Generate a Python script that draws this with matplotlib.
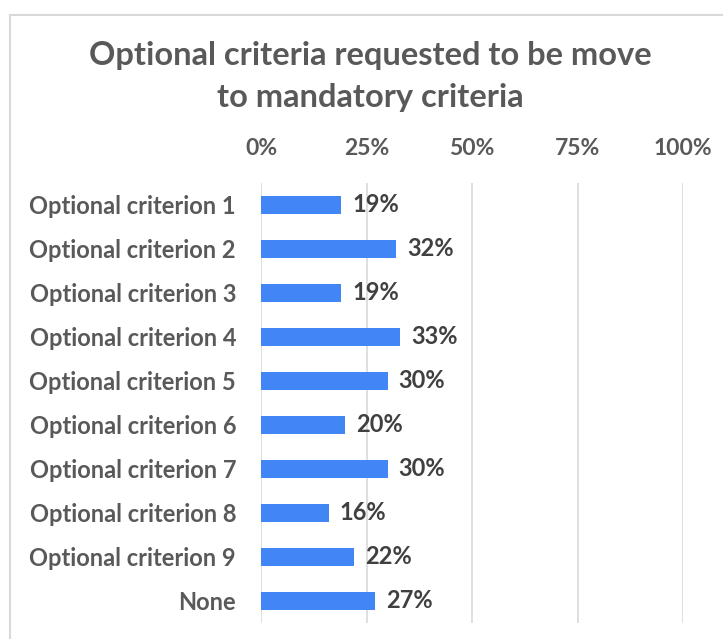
import matplotlib
matplotlib.use("Agg")
import matplotlib.pyplot as plt
from matplotlib.patches import Rectangle

# datos
categories = ["Optional criterion 1", "Optional criterion 2", "Optional criterion 3",
              "Optional criterion 4", "Optional criterion 5", "Optional criterion 6",
              "Optional criterion 7", "Optional criterion 8", "Optional criterion 9", "None"]
values = [19, 32, 19, 33, 30, 20, 30, 16, 22, 27]
ticks = [0, 25, 50, 75, 100]
tick_labels = ["0%", "25%", "50%", "75%", "100%"]

plt.rcParams['font.family'] = ['Lato', 'DejaVu Sans']
W, H = 723, 639
fig = plt.figure(figsize=(W / 100, H / 100), dpi=100)

# marco exterior del grafico
fig.patches.append(Rectangle((10 / W, -0.1), 1.2, 1 - 15 / H + 0.1, transform=fig.transFigure,
                             fill=False, edgecolor='#d9d9d9', linewidth=1.5))

ax = fig.add_axes([261 / W, 1 - 623 / H, (683 - 261) / W, 440 / H])
y = list(range(len(categories)))
ax.barh(y, values, height=0.39, color='#4285f4', zorder=3)
ax.set_ylim(len(categories) - 0.5, -0.5)
ax.set_xlim(0, 100)
ax.set_xticks(ticks)
ax.set_xticklabels(tick_labels)
ax.xaxis.tick_top()
ax.tick_params(axis='x', length=0, pad=17, labelsize=16.5, labelcolor='#595959')
ax.set_yticks(y)
ax.set_yticklabels(categories, fontweight='bold')
ax.tick_params(axis='y', length=0, pad=18, labelsize=17, labelcolor='#595959')
for lab in ax.get_xticklabels():
    lab.set_fontweight('bold')
ax.grid(axis='x', color='#d9d9d9', linewidth=1.2, zorder=0)
for s in ax.spines.values():
    s.set_visible(False)

for yi, v in zip(y, values):
    ax.text(v + 2.6, yi, f"{v}%", va='center', ha='left', fontsize=17,
            fontweight='bold', color='#404040')

fig.text(370 / W, 1 - 55 / H, "Optional criteria requested to be move", ha='center', va='center',
         fontsize=23.5, fontweight='bold', color='#595959')
fig.text(370 / W, 1 - 98 / H, "to mandatory criteria", ha='center', va='center',
         fontsize=23.5, fontweight='bold', color='#595959')

fig.savefig("out.png", dpi=100)
